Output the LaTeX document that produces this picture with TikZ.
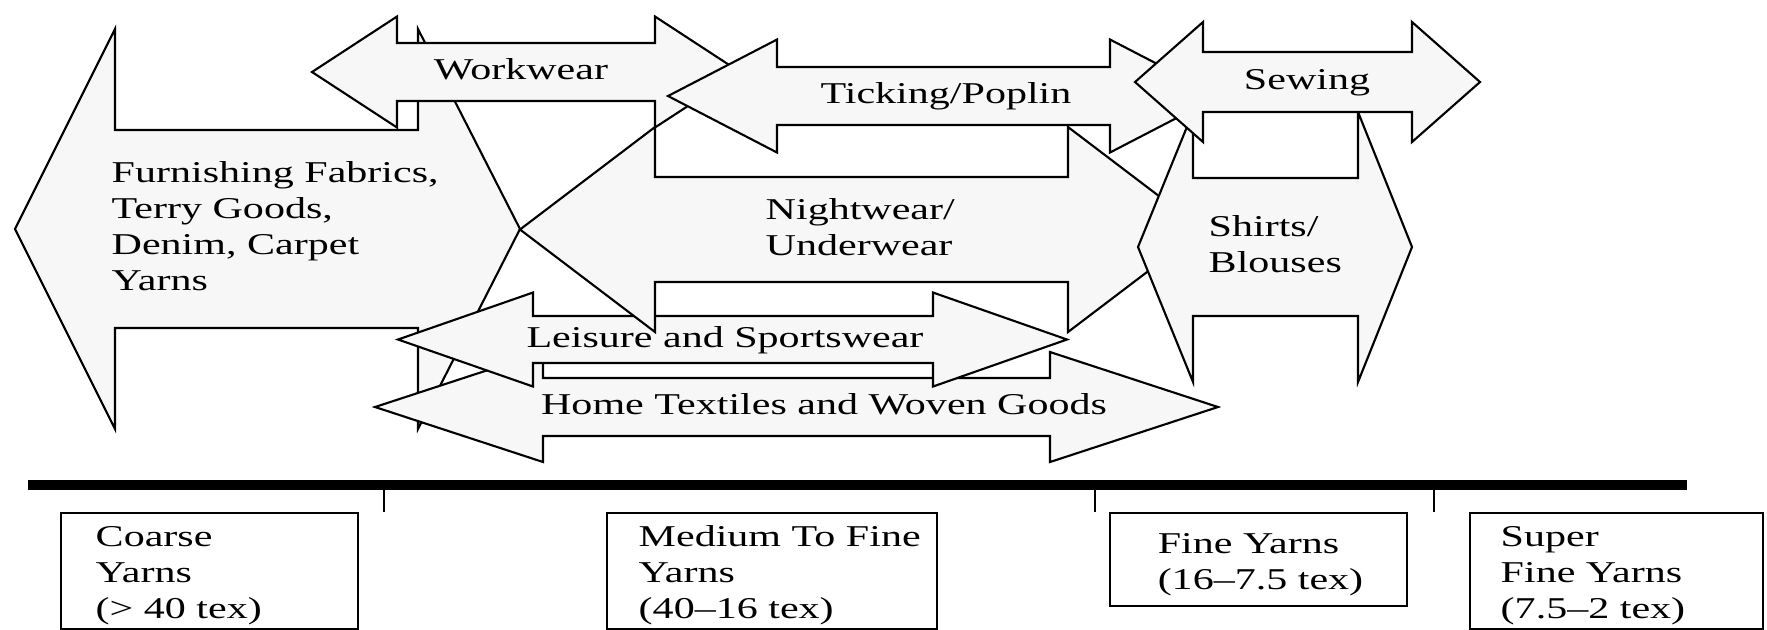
\documentclass[tikz,border=0pt]{standalone}
\usepackage{fontspec}
\setmainfont{Liberation Serif}
\usepackage{graphicx}
\usetikzlibrary{positioning}

% labels in the source are set wide
\newcommand{\wide}[1]{\scalebox{1.39}[1]{\begin{tabular}{@{}l@{}}#1\end{tabular}}}

\begin{document}
\begin{tikzpicture}
  [
    x = 0.01cm, y = -0.01cm,
    arrowshape/.style = {draw, fill = black!3, line width = 0.6pt, line join = miter},
    lbl/.style        = {inner sep = 0pt, font = \fontsize{8.6}{10.24}\selectfont},
    yarnbox/.style    = {draw, line width = 0.6pt, anchor = north west, minimum height = 1.16cm},
    axis/.style       = {line width = 2.6pt},
    tickmark/.style   = {line width = 0.5pt},
  ]
  \useasboundingbox (0,0) rectangle (1767,629);

  % double arrows, back to front:
  % left tip / left base / right base / right tip / centre / half shaft / half head
  \foreach \lt/\lb/\rb/\rt/\cy/\sh/\hh in {
      15/115/418/520/229/99/200,           % furnishing fabrics
      375/543/1050/1218/407/29/55,         % home textiles
      398/533/933/1067/339.5/23.5/47,      % leisure
      520/655/1068/1203/229.5/52.5/102.5,  % nightwear
      312/397/655/740/72/29/55.5,          % workwear
      668/777/1110/1219/96/29/56.5,        % ticking
      1138/1193/1358/1412/247/69/135,      % shirts
      1135/1203/1412/1480/82/30/60}        % sewing
    {
      \filldraw[arrowshape]
        (\lt,\cy) -- (\lb,\cy-\hh) -- (\lb,\cy-\sh) -- (\rb,\cy-\sh)
        -- (\rb,\cy-\hh) -- (\rt,\cy) -- (\rb,\cy+\hh) -- (\rb,\cy+\sh)
        -- (\lb,\cy+\sh) -- (\lb,\cy+\hh) -- cycle;
    }

  % arrow texts
  \node[lbl, anchor = west] (furnish) at (111,229)
    {\wide{Furnishing Fabrics,\\Terry Goods,\\Denim, Carpet\\Yarns}};
  \node[lbl] (workwear) at (521,72) {\wide{Workwear}};
  \node[lbl] (ticking) at (946,96) {\wide{Ticking/Poplin}};
  \node[lbl] (sewing) at (1307,82) {\wide{Sewing}};
  \node[lbl, anchor = west] (nightwear) at (765,230) {\wide{Nightwear/\\Underwear}};
  \node[lbl, anchor = west] (shirts) at (1208,247) {\wide{Shirts/\\Blouses}};
  \node[lbl] (leisure) at (725,340) {\wide{Leisure and Sportswear}};
  \node[lbl] (home) at (824,407) {\wide{Home Textiles and Woven Goods}};

  % the yarn scale
  \coordinate (axisL) at (28,485);
  \coordinate (axisR) at (1687,485);
  \draw[axis] (axisL) -- (axisR);
  \foreach \tx in {384, 1095, 1434}
    \draw[tickmark] (\tx,485) -- (\tx,512);

  % yarn classes
  \node[yarnbox, minimum width = 2.97cm] (coarse) at (60,512) {};
  \node[yarnbox, minimum width = 3.30cm] (medium) at (606,512) {};
  \node[yarnbox, minimum width = 2.97cm, minimum height = 0.93cm] (fine) at (1109,512) {};
  \node[yarnbox, minimum width = 2.93cm] (super) at (1469,512) {};

  \node[lbl, right = 0.35cm of coarse.west, yshift = -0.04cm] (coarsetxt)
    {\wide{Coarse\\Yarns\\(> 40 tex)}};
  \node[lbl, right = 0.32cm of medium.west, yshift = -0.04cm] (mediumtxt)
    {\wide{Medium To Fine\\Yarns\\(40--16 tex)}};
  \node[lbl, right = 0.48cm of fine.west, yshift = -0.05cm] (finetxt)
    {\wide{Fine Yarns\\(16--7.5 tex)}};
  \node[lbl, right = 0.31cm of super.west, yshift = -0.04cm] (supertxt)
    {\wide{Super\\Fine Yarns\\(7.5--2 tex)}};
\end{tikzpicture}
\end{document}
